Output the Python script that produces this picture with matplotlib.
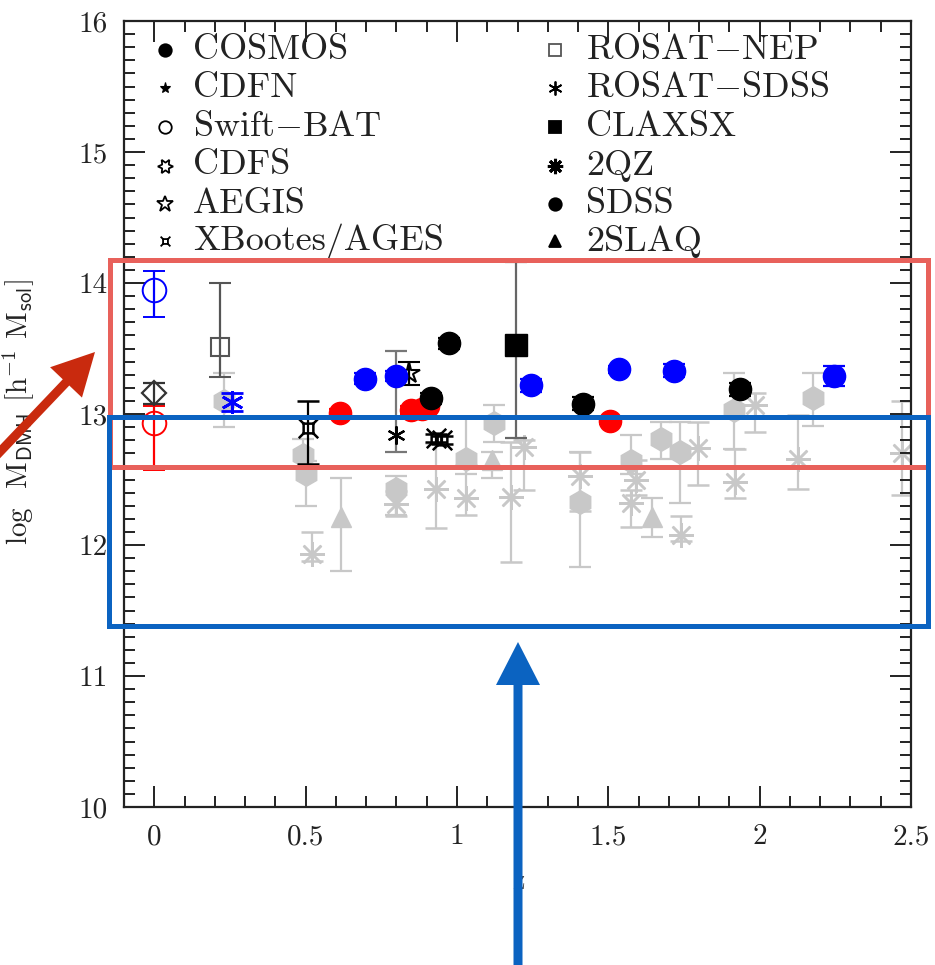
import matplotlib
matplotlib.use("Agg")
import matplotlib.pyplot as plt
from matplotlib.path import Path
from matplotlib.patches import Rectangle, FancyArrow
from matplotlib.ticker import MultipleLocator

plt.rcParams["font.family"] = "cmr10"
plt.rcParams["mathtext.fontset"] = "cm"
plt.rcParams["axes.formatter.use_mathtext"] = True

# ---- data: z, log M_DMH, lower / upper error ----
# this work (filled circles)
blk_z = [0.915, 0.975, 1.416, 1.934]
blk_m = [13.12, 13.54, 13.08, 13.19]
blk_e = [0.04, 0.04, 0.05, 0.05]
blu_z = [0.697, 0.797, 1.245, 1.535, 1.716, 2.246]
blu_m = [13.27, 13.29, 13.22, 13.34, 13.33, 13.29]
blu_e = [0.04, 0.04, 0.05, 0.03, 0.05, 0.08]
red_z = [0.615, 0.848, 0.885, 0.905, 1.507]
red_m = [13.01, 13.03, 13.04, 13.06, 12.95]
red_e = [0.03, 0.03, 0.03, 0.03, 0.03]

# Swift-BAT (z~0)
bat_z = [0.0, 0.0]
bat_m = [13.95, 12.93]
bat_lo = [0.21, 0.36]
bat_hi = [0.14, 0.13]
bat_c = ["blue", "red"]
dia_z, dia_m, dia_e = [0.0], [13.16], [0.08]

nep_z, nep_m, nep_lo, nep_hi = [0.217], [13.51], [0.23], [0.49]
rsd_z, rsd_m, rsd_e = [0.256], [13.09], [0.07]
clx_z, clx_m, clx_lo, clx_hi = [1.196], [13.53], [0.71], [0.63]
xb_z = [0.507, 0.93, 0.95]
xb_m = [12.89, 12.82, 12.80]
xb_lo = [0.27, 0.03, 0.03]
xb_hi = [0.21, 0.03, 0.03]
cdfn_z, cdfn_m, cdfn_lo, cdfn_hi = [0.80], [12.84], [0.13], [0.64]
aeg_z, aeg_m, aeg_e = [0.84], [13.31], [0.09]

# literature (grey)
hex_z = [0.23, 0.49, 0.50, 0.80, 1.03, 1.124, 1.405, 1.576, 1.675, 1.736, 1.915, 2.177]
hex_m = [13.10, 12.69, 12.54, 12.43, 12.66, 12.93, 12.33, 12.64, 12.81, 12.71, 13.03, 13.12]
hex_lo = [0.20, 0.10, 0.24, 0.20, 0.12, 0.14, 0.50, 0.10, 0.15, 0.39, 0.30, 0.21]
hex_hi = [0.21, 0.12, 0.10, 0.10, 0.32, 0.14, 0.38, 0.20, 0.13, 0.23, 0.28, 0.19]
ast_z = [0.52, 0.80, 0.93, 1.03, 1.18, 1.223, 1.405, 1.576, 1.592, 1.741, 1.797,
         1.918, 1.984, 2.127, 2.469]
ast_m = [11.93, 12.31, 12.43, 12.36, 12.37, 12.75, 12.53, 12.32, 12.50, 12.08, 12.74,
         12.48, 13.07, 12.66, 12.70]
ast_lo = [0.05, 0.09, 0.30, 0.13, 0.50, 0.33, 0.27, 0.18, 0.12, 0.05, 0.28,
          0.12, 0.21, 0.23, 0.32]
ast_hi = [0.17, 0.10, 0.35, 0.25, 0.42, 0.05, 0.18, 0.10, 0.15, 0.14, 0.20,
          0.25, 0.09, 0.33, 0.40]
tri_z = [0.617, 1.117, 1.645]
tri_m = [12.21, 12.65, 12.21]
tri_lo = [0.41, 0.14, 0.15]
tri_hi = [0.30, 0.06, 0.15]

leg_left = ["COSMOS", "CDFN", "Swift$-$BAT", "CDFS", "AEGIS", "XBootes/AGES"]
leg_right = ["ROSAT$-$NEP", "ROSAT$-$SDSS", "CLAXSX", "2QZ", "SDSS", "2SLAQ"]

# ---- custom markers ----
xb_path = Path([(-0.5, -0.5), (0.5, -0.5), (0.5, 0.5), (-0.5, 0.5), (-0.5, -0.5),
                (0.5, 0.5), (1.0, 1.0), (-0.5, 0.5), (-1.0, 1.0),
                (0.5, -0.5), (1.0, -1.0), (-0.5, -0.5), (-1.0, -1.0)],
               [1, 2, 2, 2, 2, 1, 2, 1, 2, 1, 2, 1, 2])
STAR6 = (6, 1, 90)
AST6 = (6, 2, 0)
AST8 = (8, 2, 0)
GREY = "#c8c8c8"

fig = plt.figure(figsize=(9.35, 9.65), dpi=100)
ax = fig.add_axes([124 / 935, 1 - 807 / 965, 787 / 935, 786 / 965])

eb = dict(capsize=8, elinewidth=1.6, capthick=1.6, linestyle="none")

ax.errorbar(hex_z, hex_m, yerr=[hex_lo, hex_hi], fmt="h", ms=17, color=GREY, zorder=1, **eb)
ax.errorbar(ast_z, ast_m, yerr=[ast_lo, ast_hi], marker=AST8, ms=18, mew=1.8, color=GREY,
            zorder=1, **eb)
ax.errorbar(tri_z, tri_m, yerr=[tri_lo, tri_hi], fmt="^", ms=15, color=GREY, zorder=1, **eb)

for z, m, lo, hi, c in zip(bat_z, bat_m, bat_lo, bat_hi, bat_c):
    ax.errorbar([z], [m], yerr=[[lo], [hi]], fmt="o", ms=17, mfc="none", mec=c, mew=1.4,
                color=c, zorder=3, **eb)
ax.errorbar(dia_z, dia_m, yerr=dia_e, fmt="D", ms=12, mfc="none", mec="#333", mew=1.6,
            color="#333", zorder=3, **eb)
ax.errorbar(nep_z, nep_m, yerr=[nep_lo, nep_hi], fmt="s", ms=13, mfc="none", mec="#555",
            mew=1.5, color="#555", zorder=3, **eb)
ax.errorbar(rsd_z, rsd_m, yerr=rsd_e, marker=AST6, ms=16, mew=2.0, color="blue", zorder=3, **eb)
ax.errorbar(clx_z, clx_m, yerr=[clx_lo, clx_hi], fmt="s", ms=16, mfc="black", mec="black",
            ecolor="#666", zorder=3, **eb)
ax.errorbar(xb_z, xb_m, yerr=[xb_lo, xb_hi], marker=xb_path, ms=14, mfc="none", mec="black",
            mew=1.8, color="black", zorder=3, **eb)
ax.errorbar(cdfn_z, cdfn_m, yerr=[cdfn_lo, cdfn_hi], marker=AST6, ms=13, mew=1.6,
            color="black", ecolor="#777", zorder=3, **eb)
ax.errorbar(aeg_z, aeg_m, yerr=aeg_e, fmt="*", ms=16, mfc="none", mec="black", mew=1.5,
            color="black", zorder=3, **eb)

ax.errorbar(red_z, red_m, yerr=red_e, fmt="o", ms=16, color="red", zorder=4, **eb)
ax.errorbar(blu_z, blu_m, yerr=blu_e, fmt="o", ms=16, color="blue", zorder=4, **eb)
ax.errorbar(blk_z, blk_m, yerr=blk_e, fmt="o", ms=16, color="black", zorder=4, **eb)

# ---- legend drawn by hand (two columns) ----
left_mk = [dict(marker="o", ms=9, mfc="k"), dict(marker="*", ms=8, mfc="k", mew=0.8),
           dict(marker="o", ms=9, mfc="none"), dict(marker=STAR6, ms=11, mfc="none"),
           dict(marker="*", ms=12, mfc="none"), dict(marker=xb_path, ms=7, mfc="none")]
right_mk = [dict(marker="s", ms=8, mfc="none", mec="#555"), dict(marker=AST6, ms=10),
            dict(marker="s", ms=9, mfc="k"), dict(marker=AST8, ms=11, mew=2.2),
            dict(marker="o", ms=9, mfc="k"), dict(marker="^", ms=9, mfc="k")]
rows = [0.963, 0.915, 0.865, 0.816, 0.767, 0.720]
for y, lab, mk in zip(rows, leg_left, left_mk):
    kw = dict(mec="k", mew=1.3, color="k")
    kw.update(mk)
    ax.plot([0.052], [y], transform=ax.transAxes, linestyle="none", clip_on=False, **kw)
    ax.text(0.088, y, lab, transform=ax.transAxes, ha="left", va="center", fontsize=26,
            color="#222")
for y, lab, mk in zip(rows, leg_right, right_mk):
    kw = dict(mec="k", mew=1.3, color="k")
    kw.update(mk)
    ax.plot([0.548], [y], transform=ax.transAxes, linestyle="none", clip_on=False, **kw)
    ax.text(0.587, y, lab, transform=ax.transAxes, ha="left", va="center", fontsize=26,
            color="#222")

# ---- axes ----
ax.set_xlim(-0.1, 2.5)
ax.set_ylim(10, 16)
ax.xaxis.set_major_locator(MultipleLocator(0.5))
ax.xaxis.set_minor_locator(MultipleLocator(0.1))
ax.yaxis.set_major_locator(MultipleLocator(1))
ax.yaxis.set_minor_locator(MultipleLocator(0.1))
ax.set_xticks([0, 0.5, 1, 1.5, 2, 2.5])
ax.set_xticklabels(["0", "0.5", "1", "1.5", "2", "2.5"])
ax.set_yticks([10, 11, 12, 13, 14, 15, 16])
ax.set_yticklabels(["10", "11", "12", "13", "14", "15", "16"])
ax.tick_params(which="both", direction="in", top=True, right=True, width=1.4,
               colors="#222", labelsize=21)
ax.tick_params(which="major", length=15, pad=12)
ax.tick_params(which="minor", length=8)
for s in ax.spines.values():
    s.set_linewidth(1.6)
    s.set_color("#222")
ax.set_xlabel("z", fontsize=20, color="#444")
ax.xaxis.set_label_coords(0.501, -0.078)
ax.set_ylabel(r"log  M$_{\mathsf{DMH}}$ [h$^{-1}$ M$_{\mathsf{sol}}$]", fontsize=21, color="#222")
ax.yaxis.set_label_coords(-0.112, 0.503)

# ---- overlay highlights (pixel positions -> inches) ----
def px(x, y):
    return x / 100, (965 - y) / 100

fig.add_artist(Rectangle(px(110, 467), 8.18, 2.07, fill=False, ec="#e8615b", lw=3.6,
                         transform=fig.dpi_scale_trans, zorder=10))
fig.add_artist(Rectangle(px(109, 626), 8.19, 2.09, fill=False, ec="#0b63c1", lw=3.6,
                         transform=fig.dpi_scale_trans, zorder=11))
x0, y0 = px(-5, 457)
x1, y1 = px(95, 352)
fig.add_artist(FancyArrow(x0, y0, x1 - x0, y1 - y0, width=0.09, head_width=0.44,
                          head_length=0.42, length_includes_head=True, color="#c92a0e",
                          lw=0, transform=fig.dpi_scale_trans, zorder=12))
x0, y0 = px(518, 980)
x1, y1 = px(518, 642)
fig.add_artist(FancyArrow(x0, y0, x1 - x0, y1 - y0, width=0.09, head_width=0.44,
                          head_length=0.43, length_includes_head=True, color="#0b63c1",
                          lw=0, transform=fig.dpi_scale_trans, zorder=12))

fig.savefig("out.png", dpi=100, facecolor="white")
